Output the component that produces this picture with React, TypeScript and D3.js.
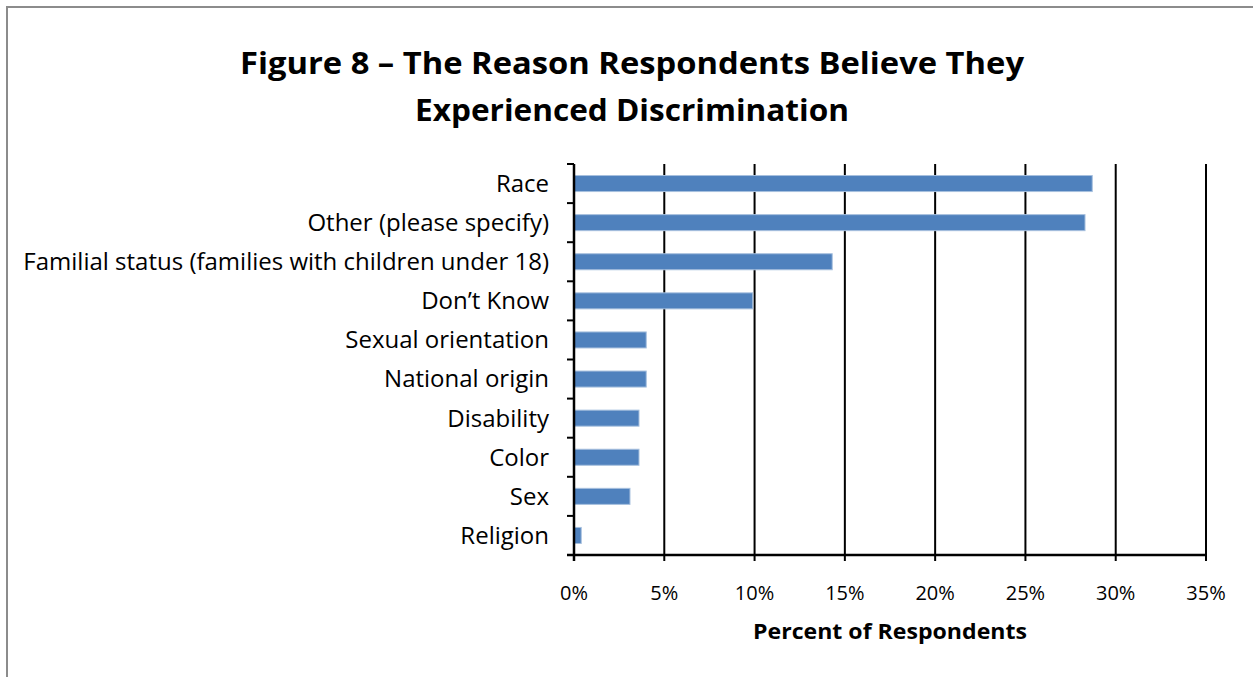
import React from "react";
import * as d3 from "d3";

const categories = [
  "Race",
  "Other (please specify)",
  "Familial status (families with children under 18)",
  "Don’t Know",
  "Sexual orientation",
  "National origin",
  "Disability",
  "Color",
  "Sex",
  "Religion",
];
const values = [28.7, 28.3, 14.3, 9.9, 4.0, 4.0, 3.6, 3.6, 3.1, 0.4];
const xTicks = [0, 5, 10, 15, 20, 25, 30, 35];
const titleLines = [
  "Figure 8 – The Reason Respondents Believe They",
  "Experienced Discrimination",
];
const xAxisTitle = "Percent of Respondents";

const W = 1253;
const H = 677;
const plot = { left: 574, right: 1206, top: 164, bottom: 555 };
const FONT = "'Open Sans', sans-serif";

export default function App() {
  const x = d3.scaleLinear().domain([0, 35]).range([plot.left, plot.right]);
  const y = d3
    .scaleBand<string>()
    .domain(categories)
    .range([plot.top, plot.bottom])
    .paddingInner(0.59)
    .paddingOuter(0.295);
  const boundaries = d3
    .range(categories.length + 1)
    .map((i) => plot.top + (i * (plot.bottom - plot.top)) / categories.length);

  return (
    <svg
      width={W}
      height={H}
      style={{ position: "absolute", left: 0, top: 0, background: "#fff" }}
      fontFamily={FONT}
    >
      <rect x={7} y={7} width={W + 10} height={H + 10} fill="#fff" stroke="#8c8c8c" strokeWidth={2} />
      {titleLines.map((t, i) => (
        <text
          key={i}
          x={632}
          y={74 + i * 47}
          textAnchor="middle"
          fontSize={31}
          fontWeight="bold"
          fill="#000"
          textLength={i === 0 ? 784 : 434}
          lengthAdjust="spacingAndGlyphs"
        >
          {t}
        </text>
      ))}
      {xTicks.filter((t) => t > 0).map((t) => (
        <line key={t} x1={x(t)} x2={x(t)} y1={plot.top} y2={plot.bottom} stroke="#000" strokeWidth={2} />
      ))}
      {categories.map((c, i) => (
        <rect
          key={c}
          x={x(0)}
          y={y(c)!}
          width={x(values[i]) - x(0)}
          height={y.bandwidth()}
          fill="#4F81BD"
          stroke="#A7C0DE"
          strokeWidth={1}
        />
      ))}
      <line x1={plot.left} x2={plot.left} y1={plot.top} y2={plot.bottom + 6} stroke="#000" strokeWidth={2.5} />
      {boundaries.map((b, i) => (
        <line key={i} x1={plot.left - 7} x2={plot.left} y1={b} y2={b} stroke="#000" strokeWidth={2} />
      ))}
      <line x1={plot.left - 7} x2={plot.right} y1={plot.bottom} y2={plot.bottom} stroke="#000" strokeWidth={2.5} />
      {xTicks.map((t) => (
        <line key={t} x1={x(t)} x2={x(t)} y1={plot.bottom} y2={plot.bottom + 6} stroke="#000" strokeWidth={2} />
      ))}
      {xTicks.map((t) => (
        <text key={t} x={x(t)} y={600} textAnchor="middle" fontSize={20} fill="#000">
          {t + "%"}
        </text>
      ))}
      <text
        x={(plot.left + plot.right) / 2}
        y={639}
        textAnchor="middle"
        fontSize={21}
        fontWeight="bold"
        fill="#000"
        textLength={274}
        lengthAdjust="spacingAndGlyphs"
      >
        {xAxisTitle}
      </text>
      {categories.map((c) => (
        <text
          key={c}
          x={549}
          y={y(c)! + y.bandwidth() / 2}
          dy="0.35em"
          textAnchor="end"
          fontSize={24}
          fill="#000"
        >
          {c}
        </text>
      ))}
    </svg>
  );
}
